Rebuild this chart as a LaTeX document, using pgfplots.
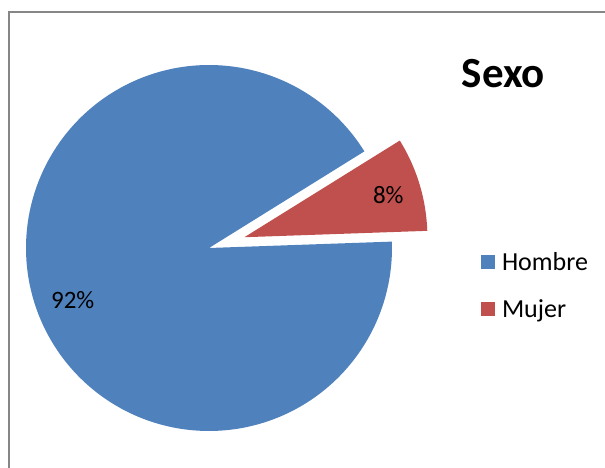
\documentclass[border=0pt]{standalone}
\usepackage{pgfplots}
\pgfplotsset{compat=1.18}
\usepackage{fontspec}
\setmainfont{Carlito}
\definecolor{hblue}{RGB}{79,129,189}
\definecolor{mred}{RGB}{192,80,77}
\definecolor{framegray}{RGB}{134,134,134}
% data (share of respondents)
\def\vH{91.7}
\def\vM{8.3}
\pgfmathsetmacro{\tot}{\vH+\vM}
\pgfmathsetmacro{\aM}{360*\vM/\tot}
\def\astart{2}
\pgfmathsetmacro{\mEnd}{\astart+\aM}
\pgfmathsetmacro{\hEnd}{\astart+360}
\pgfmathsetmacro{\mMid}{\astart+\aM/2}
\def\cx{209}
\def\cy{220}
\def\R{183}
\pgfmathsetmacro{\ex}{\cx+37*cos(\mMid)}
\pgfmathsetmacro{\ey}{\cy+37*sin(\mMid)}
\begin{document}
\begin{tikzpicture}
\useasboundingbox (0,0) rectangle (605bp,468bp);
\begin{axis}[
  at={(0,0)}, anchor=origin,
  x=1bp, y=1bp,
  xmin=0, xmax=605, ymin=0, ymax=468,
  hide axis, clip=false,
  legend cell align=left,
  legend image code/.code={\path[#1] (0bp,-7bp) rectangle (14bp,7bp);},
  legend style={draw=none, fill=none, inner sep=0pt, outer sep=0pt,
    at={(axis cs:481,182.5)}, anchor=west,
    row sep=28bp, column sep=7bp,
    font=\fontsize{26bp}{31bp}\selectfont,
    nodes={inner sep=0pt, outer sep=0pt}},
]
\draw[framegray, line width=1.5bp] (9,0) -- (9,456) -- (605,456);
\addplot[fill=hblue, draw=none, domain=\mEnd:\hEnd, samples=240]
  ({\cx+\R*cos(x)},{\cy+\R*sin(x)}) -- (\cx,\cy) -- cycle;
\addlegendentry{Hombre}
\addplot[fill=mred, draw=none, domain=\astart:\mEnd, samples=60]
  ({\ex+\R*cos(x)},{\ey+\R*sin(x)}) -- (\ex,\ey) -- cycle;
\addlegendentry{Mujer}
\node[font=\fontsize{25bp}{30bp}\selectfont, anchor=base] at (axis cs:72.7,159.7) {92\%};
\node[font=\fontsize{25bp}{30bp}\selectfont, anchor=base] at (axis cs:388.3,265) {8\%};
\node[font=\fontsize{43bp}{50bp}\selectfont\bfseries, anchor=base] at (axis cs:503.5,381) {Sexo};
\end{axis}
\end{tikzpicture}
\end{document}
